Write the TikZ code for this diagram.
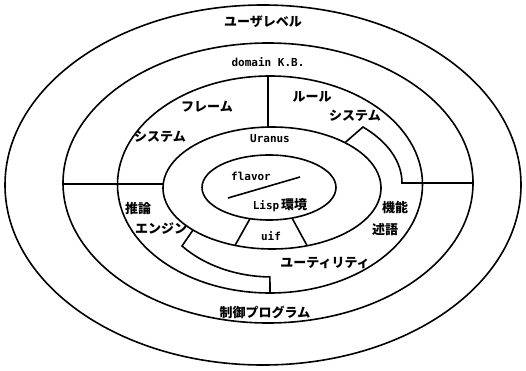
\documentclass[tikz,border=0pt]{standalone}
\usepackage{fontspec}
\newfontfamily\jp{Noto Sans CJK JP}
\newfontfamily\mono{DejaVu Sans Mono}
\tikzset{
  ring/.style={line width=1.6pt},
  jl/.style={font={\jp\bfseries\fontsize{13pt}{13pt}\selectfont}, inner sep=0pt},
  ml/.style={font={\mono\bfseries\fontsize{11pt}{11pt}\selectfont}, inner sep=0pt},
}
\begin{document}
\begin{tikzpicture}[x=1pt,y=1pt]
\useasboundingbox (0,0) rectangle (526,370);
% ellipse centres
\coordinate (c1) at (263,185);
\coordinate (c2) at (268,187);
\coordinate (c3) at (270,185.5);
\coordinate (c4) at (272,182);
\coordinate (c5) at (269,182.5);
\draw[ring] (c1) ellipse [x radius=258pt, y radius=180pt];
\draw[ring] (c2) ellipse [x radius=205pt, y radius=140pt];
\draw[ring] (c3) ellipse [x radius=152.5pt, y radius=108.5pt];
\draw[ring] (c4) ellipse [x radius=109pt, y radius=61pt];
\draw[ring] (c5) ellipse [x radius=67pt, y radius=32.5pt];
% dividers
\coordinate (vt) at (268,294);
\coordinate (vb) at (268,243);
\draw[ring] (vt) -- (vb);
\coordinate (hl1) at (63,186);
\coordinate (hl2) at (163,186);
\draw[ring] (hl1) -- (hl2);
% right bracket
\coordinate (rb0) at (344.9,227.3);
\coordinate (rb1) at (363,243);
\coordinate (rb3) at (473,187);
\draw[ring, line join=miter] (rb0) -- (rb1) arc [start angle=45.57, end angle=0, x radius=130pt, y radius=78.4pt] -- (rb3);
% left bracket
\coordinate (lb0) at (193,140);
\coordinate (lb1) at (182,124);
\coordinate (lb3) at (270,77);
\draw[ring, line join=miter] (lb0) -- (lb1) arc [start angle=220.7, end angle=269, x radius=118.7pt, y radius=89pt] -- (lb3);
% inner diagonal
\coordinate (d1) at (228,172);
\coordinate (d2) at (300,193);
\draw[ring] (d1) -- (d2);
% uif trapezoid sides
\coordinate (u1) at (250,151.3);
\coordinate (u2) at (235,124.6);
\coordinate (u3) at (292,152);
\coordinate (u4) at (307,124.5);
\draw[ring] (u1) -- (u2);
\draw[ring] (u3) -- (u4);
% labels
\node[jl] (t1) at (263,348) {ユーザレベル};
\node[ml] (t2) at (268,308) {domain K.B.};
\node[jl] (t3) at (207,263) {フレーム};
\node[jl] (t4) at (312,273) {ルール};
\node[jl] (t5) at (355,254) {システム};
\node[jl] (t6) at (160,233) {システム};
\node[ml] (t7) at (270,231) {Uranus};
\node[ml] (t8) at (251,194) {flavor};
\node[inner sep=0pt] (t9) at (280,165) {\mono\bfseries\fontsize{11pt}{11pt}\selectfont Lisp\,\jp\fontsize{13pt}{13pt}\selectfont 環境};
\node[ml] (t10) at (271,134) {uif};
\node[jl] (t11) at (138,161) {推論};
\node[jl] (t12) at (161,141) {エンジン};
\node[jl] (t13) at (395,162) {機能};
\node[jl] (t14) at (385,140) {述語};
\node[jl] (t15) at (325,107) {ユーティリティ};
\node[jl] (t16) at (265,58) {制御プログラム};
\end{tikzpicture}
\end{document}
